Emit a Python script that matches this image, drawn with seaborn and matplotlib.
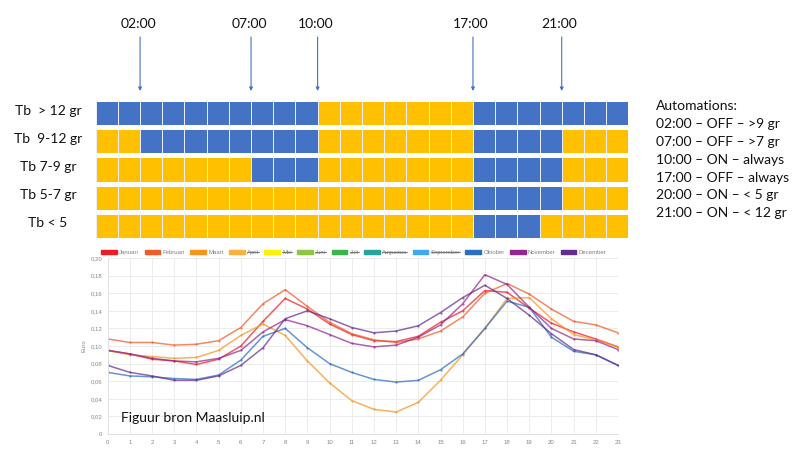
import numpy as np
import pandas as pd
import matplotlib
matplotlib.use("Agg")
import matplotlib.pyplot as plt
import matplotlib.transforms as mtransforms
from matplotlib.colors import ListedColormap
from matplotlib.patches import Patch
from matplotlib.lines import Line2D
import seaborn as sns

# ---------------- data ----------------
hours = list(range(24))
row_labels = ["Tb  > 12 gr", "Tb  9-12 gr", "Tb 7-9 gr", "Tb 5-7 gr", "Tb < 5"]
# 1 = blue (off), 0 = yellow (on)
state_gt12 = [1]*10 + [0]*7 + [1]*7
state_9_12 = [0]*2 + [1]*8 + [0]*7 + [1]*4 + [0]*3
state_7_9 = [0]*7 + [1]*3 + [0]*7 + [1]*4 + [0]*3
state_5_7 = [0]*17 + [1]*4 + [0]*3
state_lt5 = [0]*17 + [1]*3 + [0]*4

arrow_hours = [2, 7, 10, 17, 21]
arrow_labels = ["02:00", "07:00", "10:00", "17:00", "21:00"]

automation_lines = [
    "Automations:",
    "02:00 \u2013 OFF \u2013 >9 gr",
    "07:00 \u2013 OFF \u2013 >7 gr",
    "10:00 \u2013 ON \u2013 always",
    "17:00 \u2013 OFF \u2013 always",
    "20:00 \u2013 ON \u2013 < 5 gr",
    "21:00 \u2013 ON \u2013 < 12 gr",
]

months = ["Januari", "Februari", "Maart", "April", "Mei", "Juni", "Juli",
          "Augustus", "September", "Oktober", "November", "December"]
month_colors = ["#ED1C24", "#F15A29", "#F7941D", "#FBB040", "#FFF200", "#8DC63F",
                "#39B54A", "#26A69A", "#3EA9F5", "#2B6CC4", "#92278F", "#662D91"]
hidden_months = ["April", "Mei", "Juni", "Juli", "Augustus", "September"]

price_jan = [0.095, 0.091, 0.085, 0.083, 0.079, 0.085, 0.100, 0.128, 0.154, 0.142, 0.125, 0.113,
             0.106, 0.105, 0.111, 0.127, 0.140, 0.163, 0.161, 0.143, 0.126, 0.116, 0.108, 0.099]
price_feb = [0.108, 0.104, 0.104, 0.101, 0.102, 0.106, 0.121, 0.148, 0.164, 0.145, 0.127, 0.114,
             0.107, 0.104, 0.108, 0.117, 0.133, 0.160, 0.171, 0.159, 0.142, 0.128, 0.124, 0.115]
price_mar = [0.095, 0.090, 0.088, 0.086, 0.087, 0.095, 0.112, 0.125, 0.112, 0.083, 0.058, 0.038,
             0.028, 0.025, 0.036, 0.061, 0.090, 0.120, 0.154, 0.155, 0.131, 0.113, 0.107, 0.099]
price_oct = [0.070, 0.066, 0.065, 0.063, 0.062, 0.067, 0.084, 0.111, 0.120, 0.098, 0.080, 0.070,
             0.062, 0.059, 0.061, 0.073, 0.091, 0.120, 0.151, 0.144, 0.110, 0.094, 0.090, 0.078]
price_nov = [0.095, 0.091, 0.086, 0.083, 0.082, 0.086, 0.095, 0.116, 0.130, 0.123, 0.113, 0.103,
             0.099, 0.101, 0.110, 0.124, 0.148, 0.181, 0.170, 0.144, 0.120, 0.108, 0.106, 0.096]
price_dec = [0.078, 0.070, 0.066, 0.061, 0.061, 0.066, 0.078, 0.098, 0.131, 0.140, 0.131, 0.121,
             0.115, 0.117, 0.123, 0.138, 0.155, 0.169, 0.154, 0.135, 0.114, 0.096, 0.090, 0.078]

y_ticks = [0.0, 0.02, 0.04, 0.06, 0.08, 0.10, 0.12, 0.14, 0.16, 0.18, 0.20]
y_tick_labels = ["0", "0,02", "0,04", "0,06", "0,08", "0,10", "0,12", "0,14", "0,16", "0,18", "0,20"]

# ---------------- style ----------------
sns.set_theme(style="white")
plt.rcParams["font.family"] = ["Lato", "DejaVu Sans"]

W, H = 800, 450
fig = plt.figure(figsize=(8, 4.5), dpi=100)
fig.patch.set_facecolor("white")

def fx(px):
    return px / W

def fy(py):
    return 1 - py / H

# ---------------- heatmap (top) ----------------
grid = pd.DataFrame([state_gt12, state_9_12, state_7_9, state_5_7, state_lt5],
                    index=row_labels, columns=hours)
hm_left, hm_right = 95.7, 628.3
pitch = 28.15
hm_top = 101.7 - 2.5
hm_bot = hm_top + 5 * pitch
ax = fig.add_axes([fx(hm_left), fy(hm_bot), fx(hm_right - hm_left), (hm_bot - hm_top) / H])
sns.heatmap(grid, ax=ax, cmap=ListedColormap(["#FFC000", "#4472C4"]), cbar=False,
            linewidths=0.6, linecolor="#e9eef8", vmin=0, vmax=1)
for i in range(6):
    ax.axhline(i, color="white", lw=3.6)
ax.set_xticks([])
ax.set_yticks([])
ax.set_xlabel("")
ax.set_ylabel("")
for s in ax.spines.values():
    s.set_visible(False)

lab_trans = mtransforms.blended_transform_factory(fig.transFigure, ax.transData)
for i, lab in enumerate(row_labels):
    ax.text(fx(48), i + 0.5 - 0.09, lab, transform=lab_trans, ha="center", va="center",
            fontsize=10, color="#111111")

for h, lab in zip(arrow_hours, arrow_labels):
    ax.annotate("", xy=(h, fy(91)), xytext=(h, fy(37)),
                xycoords=("data", "figure fraction"), textcoords=("data", "figure fraction"),
                arrowprops=dict(arrowstyle="-|>", color="#4472C4", lw=0.8,
                                mutation_scale=5, shrinkA=0, shrinkB=0),
                annotation_clip=False)
    ax.annotate(lab, xy=(h, fy(24)), xycoords=("data", "figure fraction"),
                xytext=(-1.5, 0), textcoords="offset points",
                ha="center", va="center", fontsize=10, color="#111111",
                annotation_clip=False)

for k, line in enumerate(automation_lines):
    fig.text(fx(655.7), fy(106 + k * 17.9), line, ha="left", va="center",
             fontsize=10, color="#111111")

# ---------------- line chart (bottom) ----------------
visible = {"Januari": price_jan, "Februari": price_feb, "Maart": price_mar,
           "Oktober": price_oct, "November": price_nov, "December": price_dec}
rows = []
for m, vals in visible.items():
    for h, v in zip(hours, vals):
        rows.append({"Uur": h, "Euro": v, "Maand": m})
df = pd.DataFrame(rows)
palette = {m: c for m, c in zip(months, month_colors)}

ax2 = fig.add_axes([fx(107.7), fy(434), fx(618 - 107.7), (434 - 258) / H])
sns.lineplot(data=df, x="Uur", y="Euro", hue="Maand", palette=palette, ax=ax2,
             marker="o", markersize=1.6, markeredgewidth=0, linewidth=1.1,
             alpha=0.72, legend=False)
ax2.set_xlim(0, 23)
ax2.set_ylim(0, 0.2)
ax2.set_xticks(hours)
ax2.set_xticklabels([str(h) for h in hours], fontsize=4.3, color="#888888",
                    family=["Liberation Sans", "DejaVu Sans"])
ax2.set_yticks(y_ticks)
ax2.set_yticklabels(y_tick_labels, fontsize=4.3, color="#888888",
                    family=["Liberation Sans", "DejaVu Sans"])
ax2.tick_params(length=0, pad=4)
ax2.grid(True, color="#ececec", lw=0.7)
ax2.set_axisbelow(True)
for s in ["top", "right"]:
    ax2.spines[s].set_visible(False)
for s in ["left", "bottom"]:
    ax2.spines[s].set_color("#e0e0e0")
    ax2.spines[s].set_linewidth(0.7)
ax2.set_xlabel("")
ax2.set_ylabel("Euro", fontsize=4.3, color="#888888", labelpad=3,
               family=["Liberation Sans", "DejaVu Sans"])

ax2.text(fx(121), fy(418), "Figuur bron Maasluip.nl", transform=fig.transFigure,
         ha="left", va="center", fontsize=10, color="#111111")

handles = [Patch(facecolor=c, edgecolor=c) for c in month_colors]
leg = fig.legend(handles, months, loc="center", bbox_to_anchor=(fx(354), fy(252.3)),
                 ncol=12, frameon=False, fontsize=4.3, handlelength=2.6,
                 handleheight=0.84, handletextpad=0.4, columnspacing=0.9,
                 borderaxespad=0, borderpad=0,
                 prop={"family": ["Liberation Sans", "DejaVu Sans"], "size": 4.3})
for t in leg.get_texts():
    t.set_color("#808080")

fig.canvas.draw()
renderer = fig.canvas.get_renderer()
inv = fig.transFigure.inverted()
for t in leg.get_texts():
    if t.get_text() in hidden_months:
        bb = t.get_window_extent(renderer)
        (x0, y0), (x1, y1) = inv.transform([(bb.x0, bb.y0), (bb.x1, bb.y1)])
        ym = y0 + 0.62 * (y1 - y0)
        fig.add_artist(Line2D([x0, x1], [ym, ym], transform=fig.transFigure,
                              color="#555555", lw=0.6))

fig.savefig("out.png", dpi=100, facecolor="white")
